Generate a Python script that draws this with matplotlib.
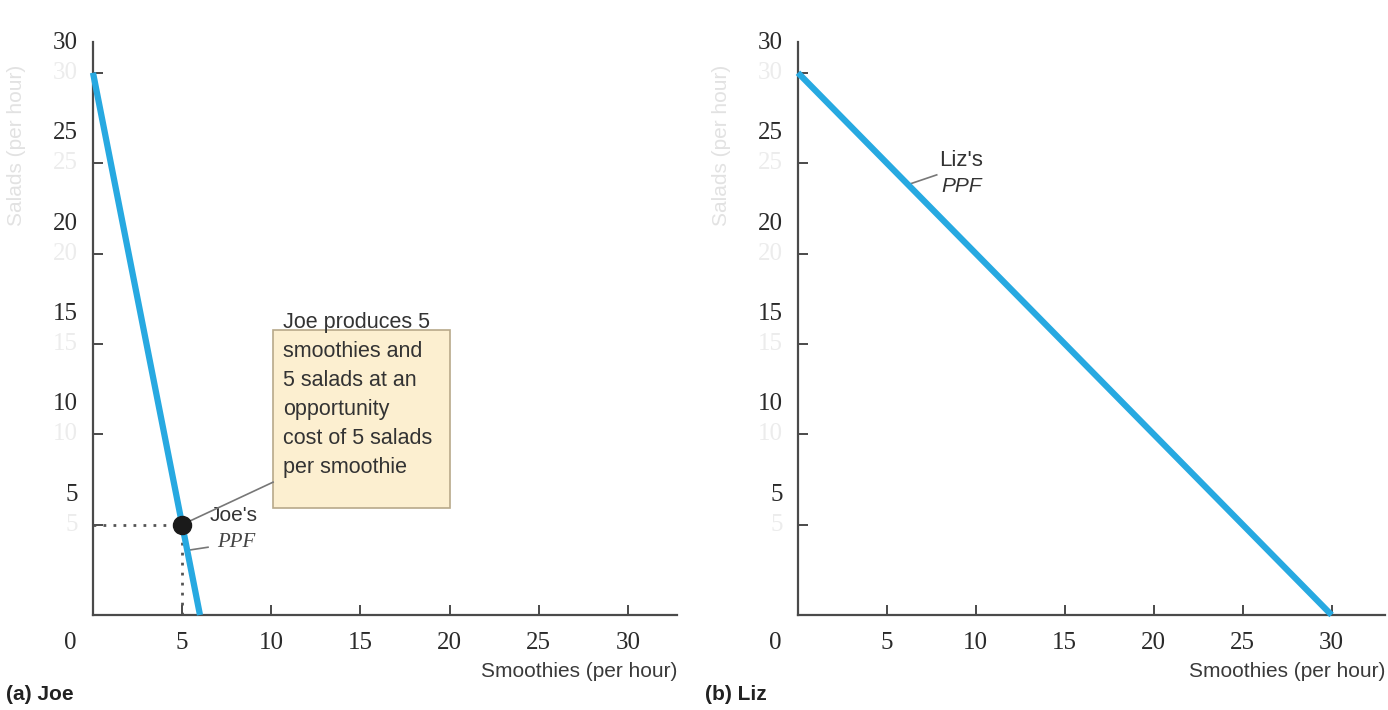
import matplotlib.pyplot as plt
from matplotlib.patches import Rectangle

# Production possibilities data (smoothies, salads per hour)
joe_smoothies = [0, 6]
joe_salads = [30, 0]
liz_smoothies = [0, 30]
liz_salads = [30, 0]
joe_point = (5, 5)
ticks = [5, 10, 15, 20, 25, 30]
tick_labels = ["5", "10", "15", "20", "25", "30"]

line_color = "#27A9E1"
axis_color = "#4a4a4a"
serif = ["Liberation Serif", "DejaVu Serif"]
sans = ["Liberation Sans", "DejaVu Sans"]
narrow = ["Liberation Sans Narrow", "Liberation Sans", "DejaVu Sans"]

fig = plt.figure(figsize=(13.88, 7.10), dpi=100)
ax_joe = fig.add_axes([0.0670, 0.1338, 0.4207, 0.807])
ax_liz = fig.add_axes([0.5749, 0.1338, 0.4229, 0.807])


def setup_axes(ax, xmax):
    ax.set_xlim(0, xmax)
    ax.set_ylim(0, 31.7)
    for side in ["top", "right"]:
        ax.spines[side].set_visible(False)
    for side in ["left", "bottom"]:
        ax.spines[side].set_color(axis_color)
        ax.spines[side].set_linewidth(1.6)
    ax.set_xticks(ticks)
    ax.set_yticks(ticks)
    ax.tick_params(direction="in", length=7, width=1.4, color=axis_color,
                   labelleft=False, labelbottom=False)
    # tick labels: faint ghost at the tick, dark copy above (as in the scan)
    for t, lab in zip(ticks, tick_labels):
        ax.text(-0.85, t, lab, ha="right", va="center", fontsize=18,
                family=serif, color="#ececec", clip_on=False)
        ax.text(-0.85, t + 1.65, lab, ha="right", va="center", fontsize=18,
                family=serif, color="#2a2a2a", clip_on=False)
        ax.text(t, -1.55, lab, ha="center", va="center", fontsize=18,
                family=serif, color="#2a2a2a", clip_on=False)
    ax.text(-1.3, -1.55, "0", ha="center", va="center", fontsize=18,
            family=serif, color="#2a2a2a", clip_on=False)
    ax.text(xmax, -3.15, "Smoothies (per hour)", ha="right", va="center",
            fontsize=15, family=narrow, color="#3a3a3a", clip_on=False)
    ax.text(-4.3, 26, "Salads (per hour)", rotation=90, ha="center",
            va="center", fontsize=15, family=narrow, color="#e2e2e2",
            clip_on=False)


setup_axes(ax_joe, 32.75)
setup_axes(ax_liz, 33.0)

# (a) Joe
ax_joe.plot(joe_smoothies, joe_salads, color=line_color, lw=4.5,
            solid_capstyle="butt", clip_on=False, zorder=3)
ax_joe.plot([0, joe_point[0]], [joe_point[1], joe_point[1]], color="#555555",
            lw=2, ls=(0, (1, 2.6)), zorder=2)
ax_joe.plot([joe_point[0], joe_point[0]], [0, joe_point[1]], color="#555555",
            lw=2, ls=(0, (1, 2.6)), zorder=2)
ax_joe.plot([joe_point[0]], [joe_point[1]], "o", color="#1a1a1a",
            markersize=13, zorder=5)

ax_joe.add_patch(Rectangle((10.1, 5.9), 9.9, 15.75 - 5.9,
                           facecolor="#FCEFD0", edgecolor="#b8a98a", lw=1.2,
                           zorder=1))
ax_joe.text(10.65, 16.75,
            "Joe produces 5\nsmoothies and\n5 salads at an\nopportunity\n"
            "cost of 5 salads\nper smoothie",
            ha="left", va="top", fontsize=15.5, family=sans, color="#333333",
            linespacing=1.5, zorder=4)
ax_joe.plot([joe_point[0], 10.1], [joe_point[1], 7.35], color="#777777",
            lw=1.2, zorder=4)

ax_joe.text(6.55, 5.5, "Joe's", ha="left", va="center", fontsize=15,
            family=sans, color="#333333")
ax_joe.text(6.95, 4.0, "PPF", ha="left", va="center", fontsize=15,
            family=serif, style="italic", color="#444444")
ax_joe.plot([5.45, 6.45], [3.6, 3.75], color="#777777", lw=1.2)

# (b) Liz
ax_liz.plot(liz_smoothies, liz_salads, color=line_color, lw=4.5,
            solid_capstyle="butt", clip_on=False, zorder=3)
ax_liz.text(7.95, 25.15, "Liz's", ha="left", va="center", fontsize=16,
            family=sans, color="#333333")
ax_liz.text(8.05, 23.7, "PPF", ha="left", va="center", fontsize=15,
            family=sans, style="italic", color="#333333")
ax_liz.plot([6.3, 7.8], [23.85, 24.35], color="#777777", lw=1.2)

fig.text(0.004, 0.022, "(a) Joe", ha="left", va="center", fontsize=15,
         fontweight="bold", family=narrow, color="#222222")
fig.text(0.508, 0.022, "(b) Liz", ha="left", va="center", fontsize=15,
         fontweight="bold", family=narrow, color="#222222")

fig.savefig("out.png", dpi=100)
